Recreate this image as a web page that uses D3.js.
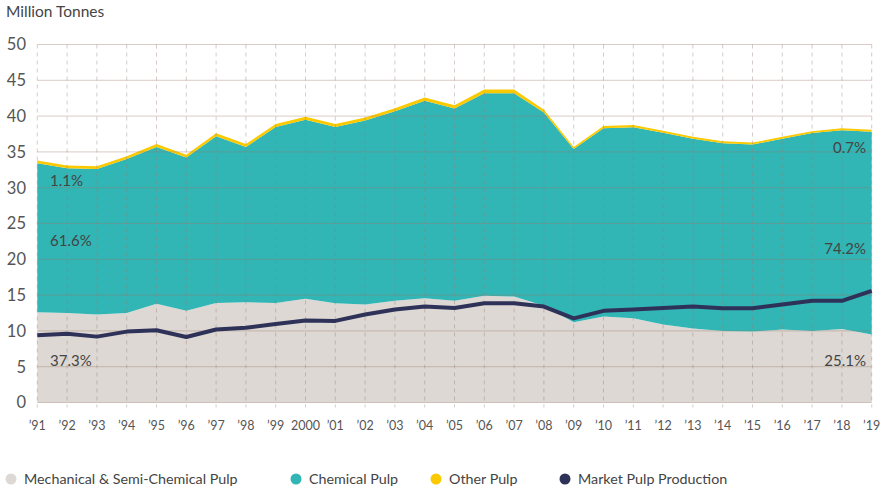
<!DOCTYPE html>
<html>
<head>
<meta charset="utf-8">
<script src="https://cdn.jsdelivr.net/npm/d3@7"></script>
<style>
  body { margin: 0; background: #fff; }
  svg { display: block; font-family: Lato, "Open Sans", sans-serif; }
</style>
</head>
<body>
<div id="chart"></div>
<script>
const years = ["’91","’92","’93","’94","’95","’96","’97","’98","’99","2000",
  "’01","’02","’03","’04","’05","’06","’07","’08","’09","’10",
  "’11","’12","’13","’14","’15","’16","’17","’18","’19"];

const mechanical = [12.6,12.5,12.3,12.5,13.8,12.8,13.9,14.0,13.9,14.5,
  13.85,13.7,14.2,14.55,14.2,14.9,14.8,13.5,11.2,12.0,
  11.75,10.9,10.35,10.0,9.9,10.2,10.0,10.25,9.5];
const chemical = [20.83,20.22,20.32,21.52,21.9,21.42,23.3,21.7,24.58,24.98,
  24.63,25.68,26.46,27.6,26.85,28.3,28.4,27.0,24.2,26.3,
  26.7,26.78,26.47,26.22,26.13,26.63,27.63,27.78,28.33];
const other = [0.37,0.38,0.38,0.38,0.4,0.38,0.4,0.4,0.42,0.42,
  0.42,0.42,0.44,0.45,0.45,0.5,0.5,0.4,0.3,0.3,
  0.3,0.28,0.28,0.28,0.27,0.27,0.27,0.27,0.27];
const marketPulp = [9.4,9.6,9.2,9.9,10.1,9.15,10.2,10.45,10.95,11.45,
  11.4,12.3,13.0,13.4,13.2,13.85,13.85,13.4,11.75,12.8,
  13.0,13.2,13.4,13.15,13.15,13.7,14.2,14.2,15.6];

const yTicks = [0,5,10,15,20,25,30,35,40,45,50];

const seriesNames = ["Mechanical & Semi-Chemical Pulp","Chemical Pulp","Other Pulp","Market Pulp Production"];
const colors = ["#ddd8d3","#31b5b5","#fbc900","#2e3259"];

const width = 890, height = 491;
const margin = { top: 44.5, right: 18.3, bottom: 88.5, left: 37.3 };

const svg = d3.select("#chart").append("svg")
  .attr("width", width).attr("height", height);

const x = d3.scalePoint().domain(years)
  .range([margin.left, width - margin.right]);
const y = d3.scaleLinear().domain([0, 50])
  .range([height - margin.bottom, margin.top]);

const rows = years.map((yr, i) => ({
  year: yr, mech: mechanical[i], chem: chemical[i], other: other[i]
}));
const stack = d3.stack().keys(["mech","chem","other"]);
const layers = stack(rows);

const area = d3.area()
  .x(d => x(d.data.year))
  .y0(d => y(d[0]))
  .y1(d => y(d[1]));

svg.append("g").selectAll("path")
  .data(layers).enter()
  .append("path")
  .attr("d", area)
  .style("fill", (_, i) => colors[i]);

// grid drawn over the areas
const grid = svg.append("g");
grid.selectAll("line.h").data(yTicks).enter()
  .append("line").attr("class","h")
  .attr("x1", margin.left).attr("x2", width - margin.right)
  .attr("y1", d => y(d)).attr("y2", d => y(d))
  .style("stroke", "rgba(155,120,105,0.38)")
  .style("stroke-width", 1);
grid.selectAll("line.v").data(years).enter()
  .append("line").attr("class","v")
  .attr("x1", d => x(d)).attr("x2", d => x(d))
  .attr("y1", y(50)).attr("y2", y(0) + 5)
  .style("stroke", "rgba(150,125,115,0.4)")
  .style("stroke-dasharray", "4,4")
  .style("stroke-width", 1);

// market pulp line
const line = d3.line()
  .x((d, i) => x(years[i]))
  .y(d => y(d));
svg.append("path")
  .datum(marketPulp)
  .attr("d", line)
  .style("fill", "none")
  .style("stroke", colors[3])
  .style("stroke-width", 4)
  .style("stroke-linejoin", "round");

// y axis labels
svg.append("g").selectAll("text").data(yTicks).enter()
  .append("text")
  .attr("x", 26).attr("y", d => y(d))
  .attr("dy", "0.36em")
  .attr("text-anchor", "end")
  .style("font-size", "16.5px")
  .style("fill", "#555")
  .text(d => d);

// x axis labels
svg.append("g").selectAll("text").data(years).enter()
  .append("text")
  .attr("x", d => x(d)).attr("y", 430)
  .attr("text-anchor", "middle")
  .style("font-size", "12.5px")
  .style("fill", "#555")
  .text(d => d);

svg.append("text")
  .attr("x", 6).attr("y", 17)
  .style("font-size", "15.5px")
  .style("fill", "#444")
  .text("Million Tonnes");

// share annotations
const notes = [
  { t: "1.1%", x: 50, y: 181, a: "start" },
  { t: "61.6%", x: 50, y: 241, a: "start" },
  { t: "37.3%", x: 50, y: 361, a: "start" },
  { t: "0.7%", x: 866, y: 148, a: "end" },
  { t: "74.2%", x: 866, y: 249, a: "end" },
  { t: "25.1%", x: 866, y: 361, a: "end" }
];
svg.append("g").selectAll("text").data(notes).enter()
  .append("text")
  .attr("x", d => d.x).attr("y", d => d.y)
  .attr("dy", "0.36em")
  .attr("text-anchor", d => d.a)
  .style("font-size", "15px")
  .style("fill", "#444")
  .text(d => d.t);

// legend
const legendX = [11, 296, 436, 565];
const lg = svg.append("g").selectAll("g").data(seriesNames).enter()
  .append("g")
  .attr("transform", (d, i) => "translate(" + legendX[i] + ",479)");
lg.append("circle").attr("r", 5.5).style("fill", (_, i) => colors[i]);
lg.append("text")
  .attr("x", 13).attr("dy", "0.36em")
  .style("font-size", "14.3px")
  .style("fill", "#444")
  .text(d => d);
</script>
</body>
</html>
